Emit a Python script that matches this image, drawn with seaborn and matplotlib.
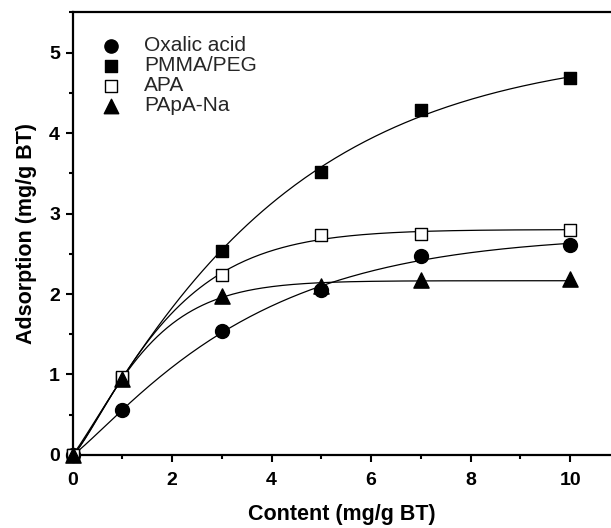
import numpy as np
import matplotlib
matplotlib.use("Agg")
import matplotlib.pyplot as plt
import seaborn as sns
from matplotlib.ticker import MultipleLocator

# content (mg/g BT) and adsorption (mg/g BT)
content = [0, 1, 3, 5, 7, 10]
oxalic = [0, 0.56, 1.54, 2.05, 2.47, 2.61]
pmma_peg = [0, 0.96, 2.53, 3.52, 4.29, 4.68]
apa = [0, 0.97, 2.24, 2.73, 2.75, 2.79]
papa_na = [0, 0.94, 1.97, 2.10, 2.17, 2.19]

labels = ["Oxalic acid", "PMMA/PEG", "APA", "PApA-Na"]
series = [oxalic, pmma_peg, apa, papa_na]
markers = ["o", "s", "s", "^"]
faces = ["black", "black", "white", "black"]
sizes = [100, 80, 80, 120]


def fit_curve(x, y):
    # least squares fit of y = A(1 - exp(-k x^n)), A solved linearly
    x = np.asarray(x, float)
    y = np.asarray(y, float)
    best = None
    for k in np.linspace(0.02, 2.0, 200):
        for n in np.linspace(0.6, 2.0, 57):
            b = 1 - np.exp(-k * x ** n)
            A = (b @ y) / (b @ b)
            err = ((A * b - y) ** 2).sum()
            if best is None or err < best[0]:
                best = (err, A, k, n)
    _, A, k, n = best
    xs = np.linspace(0, x.max(), 200)
    return xs, A * (1 - np.exp(-k * xs ** n))


sns.set_theme(style="ticks")
plt.rcParams["font.family"] = ["Liberation Sans", "DejaVu Sans"]
plt.rcParams["font.weight"] = "bold"

fig = plt.figure(figsize=(6.11, 5.28), dpi=100)
ax = fig.add_axes([0.1187, 0.1383, 0.8813, 0.8384])

handles = []
for lab, ys, m, fc, s in zip(labels, series, markers, faces, sizes):
    xs, yf = fit_curve(content, ys)
    sns.lineplot(x=xs, y=yf, color="black", lw=0.9, ax=ax, sort=False)
    sc = ax.scatter(content, ys, marker=m, s=s, facecolor=fc, edgecolor="black",
                    linewidths=1.0, clip_on=False, zorder=5, label=lab)
    handles.append(sc)

ax.set_xlim(0, 10.82)
ax.set_ylim(0, 5.5)
ax.xaxis.set_major_locator(MultipleLocator(2))
ax.xaxis.set_minor_locator(MultipleLocator(1))
ax.yaxis.set_major_locator(MultipleLocator(1))
ax.yaxis.set_minor_locator(MultipleLocator(0.5))
ax.tick_params(which="major", direction="out", length=5, width=1.5,
               labelsize=14, pad=4, colors="black")
ax.tick_params(axis="x", which="major", pad=7)
ax.tick_params(which="minor", direction="out", length=3, width=1.5, colors="black")

for side in ["left", "bottom", "top"]:
    ax.spines[side].set_linewidth(1.6)
    ax.spines[side].set_color("black")
ax.spines["right"].set_visible(False)

ax.set_xlabel("Content (mg/g BT)", fontsize=15.5, fontweight="bold", labelpad=11,
              color="black")
ax.set_ylabel("Adsorption (mg/g BT)", fontsize=15.5, fontweight="bold", labelpad=9,
              color="black")

leg = ax.legend(handles=handles, loc="upper left", bbox_to_anchor=(0.04, 0.965),
                frameon=False, prop={"size": 15, "weight": "normal"},
                handlelength=0.8, handletextpad=1.2,
                labelspacing=0.05, borderaxespad=0, markerscale=0.95)

fig.savefig("out.png", dpi=100)
